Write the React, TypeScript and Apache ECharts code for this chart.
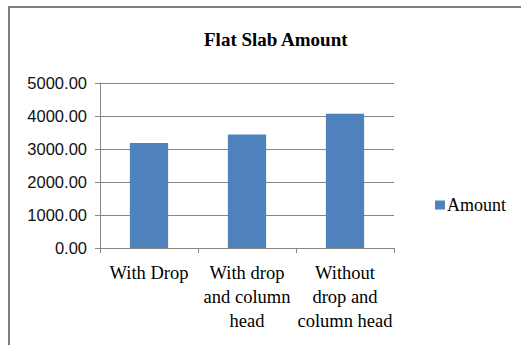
import React, { useEffect, useRef } from "react";
import * as echarts from "echarts";

const categories = ["With Drop", "With drop\nand column\nhead", "Without\ndrop and\ncolumn head"];
const amounts = [3180, 3440, 4070];
const seriesName = "Amount";
const chartTitle = "Flat Slab Amount";

export default function App() {
  const ref = useRef<HTMLDivElement>(null);
  useEffect(() => {
    if (!ref.current) return;
    const chart = echarts.init(ref.current, null, { renderer: "svg" });
    chart.setOption({
      animation: false,
      backgroundColor: "#ffffff",
      title: {
        text: chartTitle,
        left: 199,
        top: 25,
        textStyle: { fontFamily: "Liberation Serif", fontWeight: "bold", fontSize: 19, color: "#000" },
      },
      legend: {
        data: [seriesName],
        left: 430,
        top: 191,
        icon: "rect",
        itemWidth: 10,
        itemHeight: 9,
        textStyle: { fontFamily: "Liberation Serif", fontSize: 18, color: "#000", padding: [0, 0, 0, -3] },
      },
      grid: { left: 100, top: 83, right: 127, bottom: 97, containLabel: false },
      xAxis: {
        type: "category",
        data: categories,
        axisLine: { lineStyle: { color: "#868686", width: 1 } },
        axisTick: { show: true, length: 5, lineStyle: { color: "#868686" } },
        axisLabel: {
          fontFamily: "Liberation Serif",
          fontSize: 18.5,
          color: "#000",
          lineHeight: 24,
          margin: 13,
          interval: 0,
        },
      },
      yAxis: {
        type: "value",
        min: 0,
        max: 5000,
        interval: 1000,
        axisLine: { show: true, lineStyle: { color: "#868686" } },
        axisTick: { show: true, length: 5, lineStyle: { color: "#868686" } },
        splitLine: { lineStyle: { color: "#868686", width: 1 } },
        axisLabel: {
          fontFamily: "Liberation Sans",
          fontSize: 16.5,
          color: "#111",
          margin: 13,
          formatter: (v: number) => v.toFixed(2),
        },
      },
      series: [
        {
          name: seriesName,
          type: "bar",
          data: amounts,
          barWidth: "39%",
          itemStyle: { color: "#4F81BD" },
        },
      ],
      graphic: [
        {
          type: "rect",
          shape: { x: 9, y: 7, width: 600, height: 400 },
          style: { fill: "none", stroke: "#7f7f7f", lineWidth: 2 },
          silent: true,
        },
      ],
    });
    return () => chart.dispose();
  }, []);
  return (
    <div
      ref={ref}
      style={{ position: "absolute", left: 0, top: 0, width: 521, height: 345 }}
    />
  );
}
